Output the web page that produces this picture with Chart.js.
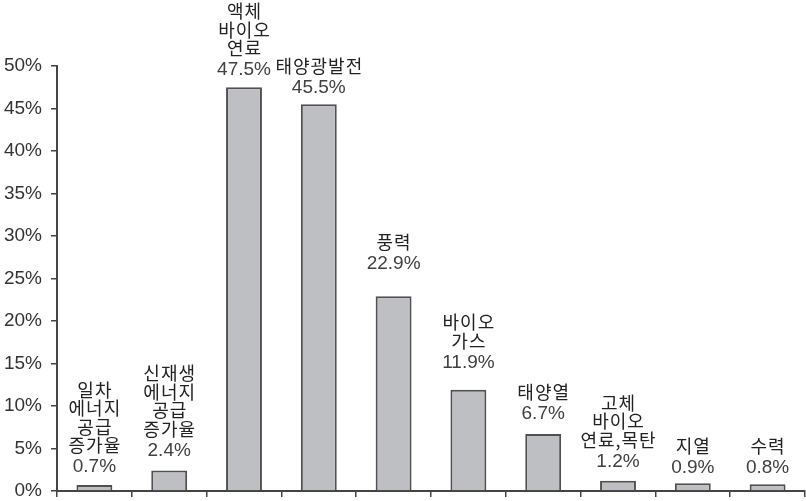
<!DOCTYPE html>
<html>
<head>
<meta charset="utf-8">
<script src="https://cdn.jsdelivr.net/npm/chart.js@4.4.0/dist/chart.umd.min.js"></script>
<style>
  html, body { margin: 0; padding: 0; background: #fff; }
  #wrap { width: 806px; height: 501px; }
</style>
</head>
<body>
<div id="wrap"><canvas id="chart" width="806" height="501"></canvas></div>
<script>
// categories (multi-line labels drawn above each bar)
var categories = [
    ['일차', '에너지', '공급', '증가율'],
    ['신재생', '에너지', '공급', '증가율'],
    ['액체', '바이오', '연료'],
    ['태양광발전'],
    ['풍력'],
    ['바이오', '가스'],
    ['태양열'],
    ['고체', '바이오', '연료,목탄'],
    ['지열'],
    ['수력']
];
var growthRates = [0.7, 2.4, 47.5, 45.5, 22.9, 11.9, 6.7, 1.2, 0.9, 0.8];
var yTicks = [0, 5, 10, 15, 20, 25, 30, 35, 40, 45, 50];

// gap between value text and bar top, per bar (labels were hand placed in the original)
var labelGaps = [12, 14, 11, 10, 26, 21, 14, 13, 9, 10];

var barLabels = {
    id: 'barLabels',
    afterDatasetsDraw: function (chart) {
        var c = chart.ctx;
        var meta = chart.getDatasetMeta(0);
        c.save();
        c.textAlign = 'center';
        c.textBaseline = 'alphabetic';
        meta.data.forEach(function (bar, i) {
            var x = bar.x;
            var base = bar.y - 1 - labelGaps[i];
            c.letterSpacing = '0px';
            c.font = '19px "Liberation Sans", Arial, sans-serif';
            c.fillStyle = '#404040';
            c.fillText(growthRates[i].toFixed(1) + '%', x, base);
            c.letterSpacing = '1px';
            c.font = '18px "Noto Sans CJK KR", sans-serif';
            c.fillStyle = '#222';
            var lines = categories[i];
            for (var k = lines.length - 1, n = 0; k >= 0; k--, n++) {
                c.fillText(lines[k], x + 0.5, base - 20 - n * 18.5);
            }
        });
        c.restore();
    }
};

const ctx = document.getElementById('chart').getContext('2d');
const rateChart = new Chart(ctx, {
    type: 'bar',
    data: {
        labels: categories.map(function (l) { return l.join(' '); }),
        datasets: [{
            data: growthRates,
            backgroundColor: '#bebfc3',
            borderColor: '#505050',
            borderWidth: 2,
            borderSkipped: 'bottom',
            barPercentage: 0.48,
            categoryPercentage: 1
        }]
    },
    options: {
        responsive: false,
        animation: false,
        layout: { padding: { top: 66, right: 1, bottom: 0, left: 0 } },
        plugins: {
            legend: { display: false },
            tooltip: { enabled: false }
        },
        scales: {
            x: {
                ticks: { display: false },
                grid: {
                    display: true,
                    drawOnChartArea: false,
                    offset: true,
                    tickLength: 6,
                    lineWidth: 1.5,
                    color: '#444'
                },
                border: { display: true, color: '#444', width: 2 },
                afterFit: function (scale) { scale.height = 10; }
            },
            y: {
                min: 0,
                max: 50,
                afterBuildTicks: function (scale) {
                    scale.ticks = yTicks.map(function (v) { return { value: v }; });
                },
                ticks: {
                    callback: function (v) { return v + '%'; },
                    color: '#333',
                    padding: 9,
                    font: { family: '"Liberation Sans", Arial, sans-serif', size: 19 }
                },
                grid: {
                    display: true,
                    drawOnChartArea: false,
                    tickLength: 6,
                    lineWidth: 1.5,
                    color: '#444'
                },
                border: { display: true, color: '#444', width: 2 },
                afterFit: function (scale) {
                    scale.width = 57;
                    scale.paddingTop = 10;
                    scale.paddingBottom = 10;
                }
            }
        }
    },
    plugins: [barLabels]
});
</script>
</body>
</html>
